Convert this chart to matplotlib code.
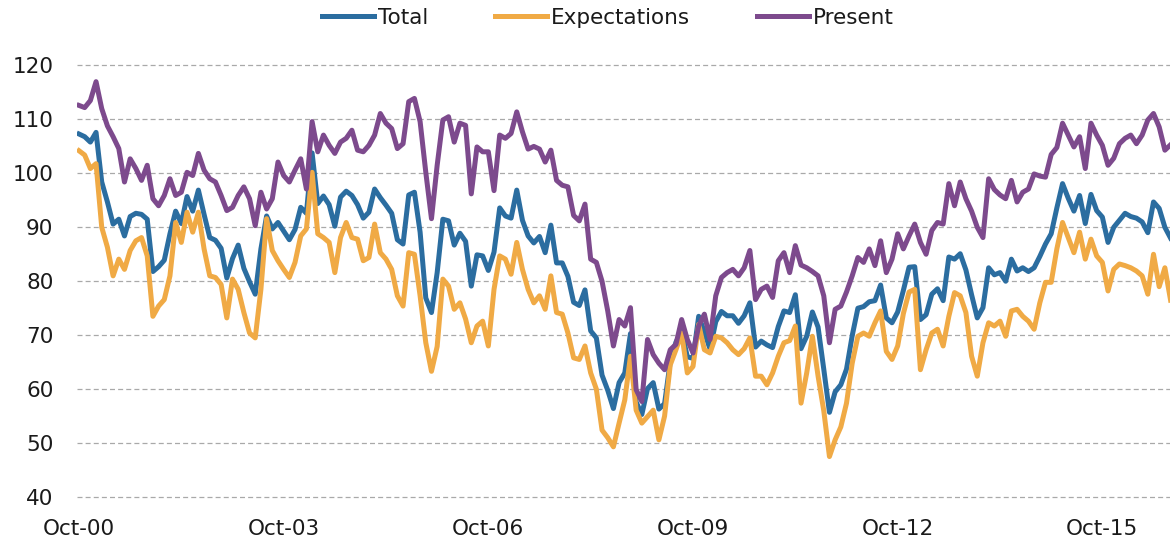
import matplotlib
matplotlib.use('Agg')
import matplotlib.pyplot as plt
import numpy as np

# monthly index readings, first point = Oct-00
tick_labels = ['Oct-00', 'Oct-03', 'Oct-06', 'Oct-09', 'Oct-12', 'Oct-15']

total = [
    107.3, 106.8, 105.8, 107.6, 98.4, 94.7, 90.6, 91.5, 88.4, 92.0, 92.6, 92.4,
    91.5, 81.8, 82.7, 83.9, 88.8, 93.0, 90.7, 95.7, 93.0, 96.9, 92.4, 88.1,
    87.6, 86.1, 80.6, 84.2, 86.7, 82.4, 79.9, 77.6, 86.0, 92.1, 89.7, 90.9,
    89.3, 87.7, 89.6, 93.7, 92.6, 103.8, 94.4, 95.8, 94.2, 90.2, 95.6, 96.7,
    95.9, 94.2, 91.7, 92.8, 97.1, 95.5, 94.1, 92.6, 87.7, 86.9, 96.0, 96.5,
    89.1, 76.9, 74.2, 81.6, 91.5, 91.2, 86.7, 88.9, 87.4, 79.1, 84.9, 84.7,
    82.0, 85.4, 93.6, 92.1, 91.7, 96.9, 91.3, 88.4, 87.1, 88.3, 85.3, 90.4,
    83.4, 83.4, 80.9, 76.1, 75.5, 78.4, 70.8, 69.5, 62.6, 59.8, 56.4, 61.2,
    63.0, 70.3, 57.6, 55.3, 60.1, 61.2, 56.3, 57.3, 65.1, 68.7, 70.8, 66.0,
    65.7, 73.5, 70.6, 67.4, 72.5, 74.4, 73.6, 73.6, 72.2, 73.6, 76.0, 67.8,
    68.9, 68.2, 67.7, 71.6, 74.5, 74.2, 77.5, 67.5, 69.8, 74.3, 71.5, 63.7,
    55.7, 59.5, 60.8, 63.7, 69.9, 75.0, 75.3, 76.2, 76.4, 79.3, 73.2, 72.3,
    74.3, 78.3, 82.6, 82.7, 72.9, 73.8, 77.6, 78.6, 76.4, 84.5, 84.1, 85.1,
    82.1, 77.5, 73.2, 75.1, 82.5, 81.2, 81.6, 80.0, 84.1, 81.9, 82.5, 81.8,
    82.5, 84.6, 86.9, 88.8, 93.6, 98.1, 95.4, 93.0, 95.9, 90.7, 96.1, 93.1,
    91.9, 87.2, 90.0, 91.3, 92.6, 92.0, 91.7, 91.0, 89.0, 94.7, 93.5, 90.0,
    88.0,
]

expectations = [
    104.2, 103.4, 100.9, 101.8, 90.0, 86.3, 81.0, 84.1, 82.2, 85.7, 87.5, 88.1,
    84.7, 73.5, 75.4, 76.6, 81.0, 90.9, 87.2, 92.8, 89.1, 92.8, 86.0, 81.0,
    80.7, 79.4, 73.2, 80.4, 78.5, 74.2, 70.4, 69.5, 78.5, 91.6, 85.7, 83.8,
    82.2, 80.7, 83.5, 88.4, 89.7, 100.2, 88.8, 88.1, 87.2, 81.6, 88.1, 90.9,
    88.1, 87.8, 83.8, 84.4, 90.6, 85.3, 84.1, 82.2, 77.3, 75.4, 85.3, 85.0,
    77.3, 68.6, 63.3, 67.9, 80.4, 79.1, 74.8, 76.0, 73.0, 68.6, 71.7, 72.6,
    68.0, 78.5, 84.7, 84.1, 81.3, 87.2, 82.2, 78.5, 76.0, 77.3, 74.8, 81.0,
    74.2, 73.9, 70.4, 65.8, 65.5, 68.0, 63.0, 60.0, 52.4, 51.0, 49.3, 53.7,
    58.0, 66.1, 56.1, 53.7, 54.9, 56.1, 50.6, 55.0, 64.5, 67.3, 70.4, 63.0,
    64.2, 72.0, 67.3, 66.7, 69.8, 69.5, 68.6, 67.3, 66.4, 67.5, 69.5, 62.4,
    62.4, 60.8, 63.0, 66.1, 68.6, 69.0, 71.7, 57.4, 63.0, 69.8, 62.4, 56.0,
    47.5, 50.6, 53.0, 57.4, 64.8, 69.8, 70.4, 69.8, 72.3, 74.5, 67.0, 65.5,
    68.0, 74.0, 78.0, 78.5, 63.6, 67.3, 70.4, 71.1, 68.0, 73.5, 77.9, 77.3,
    74.2, 66.1, 62.4, 68.6, 72.3, 71.7, 72.6, 69.8, 74.5, 74.8, 73.5, 72.6,
    71.1, 76.0, 79.8, 79.8, 86.0, 90.9, 88.1, 85.3, 89.1, 84.1, 87.8, 84.7,
    83.5, 78.2, 82.2, 83.2, 82.9, 82.5, 81.9, 81.0, 77.6, 85.0, 79.0, 82.5,
    76.5,
]

present = [
    112.6, 112.2, 113.5, 117.0, 112.0, 108.8, 106.8, 104.6, 98.4, 102.7, 100.9, 98.7,
    101.5, 95.3, 94.0, 95.9, 99.0, 95.9, 96.5, 100.2, 99.6, 103.7, 100.6, 99.0,
    98.4, 95.9, 93.1, 93.7, 95.9, 97.5, 95.3, 90.3, 96.5, 93.4, 95.3, 102.1,
    99.6, 98.4, 100.6, 102.7, 97.1, 109.6, 104.0, 107.1, 105.2, 103.7, 105.8, 106.5,
    108.0, 104.3, 104.0, 105.2, 107.1, 111.1, 109.3, 108.3, 104.6, 105.5, 113.3, 113.9,
    109.6, 100.2, 91.6, 101.5, 109.9, 110.5, 105.8, 109.3, 108.9, 96.2, 104.9, 104.0,
    104.0, 96.8, 107.1, 106.5, 107.4, 111.4, 107.7, 104.5, 105.0, 104.5, 102.1, 104.3,
    98.7, 97.8, 97.5, 92.2, 91.2, 94.3, 84.1, 83.5, 80.0, 74.5, 68.0, 72.9,
    71.7, 75.1, 59.9, 57.7, 69.2, 66.4, 64.8, 63.6, 67.3, 68.3, 72.9, 69.2,
    66.7, 71.7, 73.9, 69.2, 77.3, 80.7, 81.6, 82.2, 81.0, 82.5, 85.7, 76.6,
    78.5, 79.1, 77.0, 83.8, 85.3, 81.6, 86.6, 83.0, 82.5, 81.8, 81.0, 77.3,
    68.6, 74.8, 75.4, 78.0, 81.0, 84.4, 83.5, 86.0, 82.9, 87.5, 81.6, 84.1,
    88.8, 86.0, 88.4, 90.6, 87.2, 85.0, 89.4, 90.9, 90.6, 98.1, 94.0, 98.4,
    95.3, 93.0, 90.0, 88.1, 99.0, 97.0, 96.0, 95.3, 98.7, 94.7, 96.5, 97.1,
    99.9, 99.5, 99.3, 103.5, 104.8, 109.3, 107.1, 104.9, 106.8, 100.9, 109.3, 107.1,
    105.2, 101.5, 102.8, 105.5, 106.5, 107.1, 105.5, 107.1, 109.9, 111.1, 108.6, 104.3,
    105.3,
]

series = [('Total', total, '#2b6da0'),
          ('Expectations', expectations, '#f0aa45'),
          ('Present', present, '#7d4a8d')]

W, H = 1170, 543
fig = plt.figure(figsize=(W / 100, H / 100), dpi=100)
ax = fig.add_axes([77 / W, 1 - 497 / H, 1 - 77 / W, (497 - 65.5) / H])

x = np.arange(len(total))
for name, vals, col in series:
    ax.plot(x, vals, color=col, lw=3.6, label=name, solid_joinstyle='round')

ax.set_xlim(-0.35, 191.9)
ax.set_ylim(40, 120)
ax.set_yticks(range(40, 121, 10))
ax.set_xticks(range(0, len(total), 36))
ax.set_xticklabels(tick_labels)

ax.yaxis.grid(True, linestyle=(0, (4, 2.5)), color='#a9a9a9', lw=0.9)
for gl in ax.get_ygridlines():
    gl.set_clip_on(False)
ax.set_axisbelow(True)
for s in ax.spines.values():
    s.set_visible(False)
ax.tick_params(axis='both', length=0, labelsize=15.5, colors='#1a1a1a')
ax.tick_params(axis='y', pad=17)
ax.tick_params(axis='x', pad=16)

fig.legend(loc='center', bbox_to_anchor=(608 / W, 1 - 18 / H), ncol=3,
           frameon=False, fontsize=15.5, handlelength=2.4, handletextpad=0.2,
           columnspacing=3.1, labelcolor='#1a1a1a')

fig.savefig('out.png', dpi=100)
